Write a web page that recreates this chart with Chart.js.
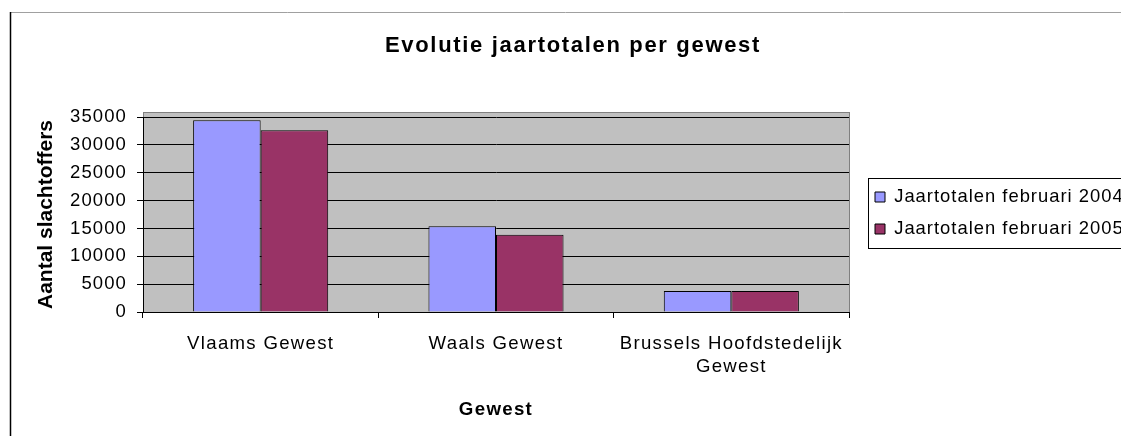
<!DOCTYPE html>
<html>
<head>
<meta charset="utf-8">
<script src="https://cdn.jsdelivr.net/npm/chart.js@4/dist/chart.umd.min.js"></script>
<style>
  html, body { margin: 0; padding: 0; background: #ffffff; }
  canvas { display: block; }
</style>
</head>
<body>
<canvas id="c" width="1121" height="436"></canvas>
<script>
// ---- data ----
const categories = ['Vlaams Gewest', 'Waals Gewest', ['Brussels Hoofdstedelijk', 'Gewest']];
const seriesNames = ['Jaartotalen februari 2004', 'Jaartotalen februari 2005'];
const values2004 = [34400, 15400, 3780];
const values2005 = [32600, 13850, 3760];
const yTickStep = 5000;
const yMax = 35000;

// ---- styling ----
const FONT = "'Liberation Sans', Arial, sans-serif";
// extra letter spacing per font size (the reference renders text slightly wider)
const SPACING = { '22': 1.68, '21': 0, '18.5': 1.1, '18.6': 1.3, '18.4': 1.0, '18.7': 1.3 };

const canvas = document.getElementById('c');
const ctx = canvas.getContext('2d');
const fontDesc = Object.getOwnPropertyDescriptor(CanvasRenderingContext2D.prototype, 'font');
Object.defineProperty(ctx, 'font', {
  configurable: true,
  get() { return fontDesc.get.call(this); },
  set(v) {
    fontDesc.set.call(this, v);
    const m = /([\d.]+)px/.exec(v);
    const ls = (m && SPACING[m[1]] !== undefined) ? SPACING[m[1]] : 0;
    if ('letterSpacing' in this) this.letterSpacing = ls + 'px';
  }
});

const LEGEND_WIDTH = 272;
const LEGEND_SHIFT_X = 12.4;
const LEGEND_SHIFT_Y = -1.5;

const decor = {
  id: 'decor',
  beforeLayout(chart) {
    const leg = chart.legend;
    if (leg && !leg._fixedFit) {
      const orig = leg.fit.bind(leg);
      leg.fit = function () { orig(); this.width = LEGEND_WIDTH; };
      leg._fixedFit = true;
    }
  },
  afterLayout(chart) {
    const leg = chart.legend;
    if (leg) {
      leg.left += LEGEND_SHIFT_X; leg.right += LEGEND_SHIFT_X;
      leg.top += LEGEND_SHIFT_Y; leg.bottom += LEGEND_SHIFT_Y;
    }
  },
  beforeDraw(chart) {
    const c = chart.ctx;
    const a = chart.chartArea;
    c.save();
    c.fillStyle = '#ffffff';
    c.fillRect(0, 0, chart.width, chart.height);
    // outer chart border
    c.lineWidth = 1;
    c.strokeStyle = '#a0a0a0';
    c.beginPath(); c.moveTo(10, 12.5); c.lineTo(chart.width, 12.5); c.stroke();
    c.strokeStyle = '#000000';
    c.lineWidth = 1.5;
    c.beginPath(); c.moveTo(10.5, 12); c.lineTo(10.5, chart.height); c.stroke();
    // plot area
    c.fillStyle = '#c0c0c0';
    c.fillRect(a.left, a.top - 5, a.right - a.left, a.bottom - a.top + 5);
    c.strokeStyle = '#808080';
    c.lineWidth = 1;
    c.strokeRect(Math.round(a.left) + 0.5, Math.round(a.top - 5) + 0.5, Math.round(a.right - a.left), Math.round(a.bottom - a.top + 5));
    c.restore();
  },
  afterDraw(chart) {
    const leg = chart.legend;
    if (!leg) return;
    const c = chart.ctx;
    const cy = (leg.top + leg.bottom) / 2;
    c.save();
    c.strokeStyle = '#000000';
    c.lineWidth = 1;
    c.strokeRect(Math.round(868 - 0) + 0.5 + (leg.left - 849 - LEGEND_SHIFT_X), Math.round(cy - 35) + 0.5, chart.width, 70);
    c.restore();
  }
};

new Chart(canvas, {
  type: 'bar',
  data: {
    labels: categories,
    datasets: [
      { label: seriesNames[0], data: values2004, backgroundColor: '#9999ff', borderColor: '#000000', borderWidth: 1 },
      { label: seriesNames[1], data: values2005, backgroundColor: '#993366', borderColor: '#000000', borderWidth: 1 }
    ]
  },
  options: {
    responsive: false,
    animation: false,
    devicePixelRatio: 1,
    layout: { padding: { left: 25, right: 0, top: 0, bottom: 0 } },
    datasets: { bar: { categoryPercentage: 0.574, barPercentage: 1.0 } },
    plugins: {
      title: {
        display: true,
        text: 'Evolutie jaartotalen per gewest',
        color: '#000000',
        font: { family: FONT, size: 22, weight: 'bold' },
        padding: { top: 33, bottom: 57.6 }
      },
      legend: {
        position: 'right',
        fullSize: false,
        maxWidth: LEGEND_WIDTH,
        labels: {
          boxWidth: 10,
          boxHeight: 10,
          padding: 13.6,
          color: '#000000',
          font: { family: FONT, size: 18.4 }
        }
      },
      tooltip: { enabled: false }
    },
    scales: {
      x: {
        offset: true,
        grid: { display: true, drawOnChartArea: false, drawTicks: true, tickLength: 6, color: '#000000', offset: true },
        border: { display: true, color: '#000000', width: 1 },
        ticks: { padding: 15.2, color: '#000000', maxRotation: 0, autoSkip: false, font: { family: FONT, size: 18.6 } },
        title: {
          display: true, text: 'Gewest', color: '#000000',
          font: { family: FONT, size: 18.7, weight: 'bold' },
          padding: { top: 0, bottom: 15.3 }
        },
        afterFit(s) { s.height = 124; }
      },
      y: {
        min: 0,
        max: yMax,
        ticks: {
          stepSize: yTickStep, padding: 10, color: '#000000',
          font: { family: FONT, size: 18.5 },
          callback: (v) => String(v)
        },
        grid: { color: '#000000', lineWidth: 1, tickLength: 6, drawTicks: true },
        border: { display: true, color: '#000000', width: 1 },
        title: {
          display: true, text: 'Aantal slachtoffers', color: '#000000',
          font: { family: FONT, size: 21, weight: 'bold' },
          padding: { top: 9, bottom: 0 }
        },
        afterFit(s) { s.width = 118; }
      }
    }
  },
  plugins: [decor]
});
</script>
</body>
</html>
